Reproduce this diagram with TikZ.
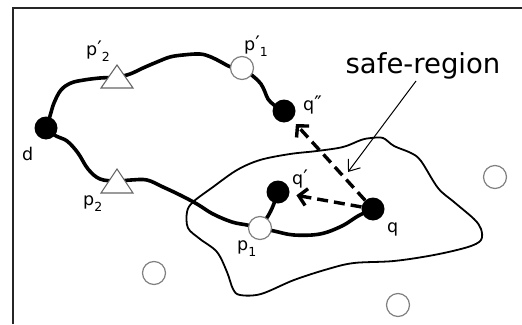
\documentclass[tikz,border=0pt]{standalone}
\usepackage{fontspec}
\setmainfont{DejaVu Sans}
\usetikzlibrary{backgrounds,arrows.meta}
\newcommand\primemark{\raisebox{0pt}{\fontsize{20}{20}\selectfont ′}}
\newcommand\dprimemark{\raisebox{0pt}{\fontsize{20}{20}\selectfont ″}}
\newcommand\plbl[3]{#1#2\raisebox{-6pt}{\fontsize{12.5}{12.5}\selectfont #3}}
\begin{document}
\begin{tikzpicture}[x=1pt,y=-1pt,
  blackdot/.style={circle,fill=black,minimum size=23pt,inner sep=0pt},
  graydot/.style={circle,draw=black!50,line width=1.2pt,fill=white,minimum size=23pt,inner sep=0pt},
  trishape/.style={draw=black!60,line width=1.1pt,fill=white,line join=miter},
  routeline/.style={line width=3.6pt,line cap=round,line join=round},
  regionline/.style={line width=1.8pt,line join=round},
  movearrow/.style={line width=3.4pt,dash pattern=on 11pt off 6pt,-{Straight Barb[length=8pt,width=17pt]}},
  pointer/.style={line width=1pt,-{Straight Barb[length=10pt,width=15pt]}},
  lbl/.style={font=\fontsize{17.5}{17.5}\selectfont,inner sep=0pt,anchor=base west},
]
\useasboundingbox (0,0) rectangle (522,324);
\draw[line width=2pt,black!85] (13,324) -- (13,8) -- (522,8);

% points
\node[blackdot] (d) at (46,128) {};
\coordinate (pp2) at (117,77);
\coordinate (p2) at (117,181);
\node[graydot] (pp1) at (242,68) {};
\node[blackdot] (qpp) at (284,111) {};
\node[blackdot] (qp) at (278,192) {};
\node[graydot] (p1) at (260,228) {};
\node[blackdot] (q) at (373,209) {};
\node[graydot] (o1) at (154,273) {};
\node[graydot] (o2) at (398,305) {};
\node[graydot] (o3) at (495,177) {};
\filldraw[trishape] ([shift={(-16,11)}]pp2) -- ([shift={(0,-12)}]pp2) -- ([shift={(16,11)}]pp2) -- cycle;
\filldraw[trishape] ([shift={(-16,12)}]p2) -- ([shift={(0,-12)}]p2) -- ([shift={(16,12)}]p2) -- cycle;

\begin{pgfonlayer}{background}
% safe region
\draw[regionline] plot[smooth cycle,tension=0.55] coordinates {
 (260,160) (290,154) (317,151) (343,147) (361,140) (371,138) (383,138) (394,146)
 (411,153) (421,161) (438,188) (454,202) (474,219) (481,229) (481,240) (468,247)
 (434,255) (394,261) (354,263) (328,269) (294,280) (261,294) (240,295) (233,289)
 (227,272) (217,252) (200,239) (188,228) (187,212) (193,202) (213,187) (237,170)};
% routes
\draw[routeline] plot[smooth,tension=0.6] coordinates {
 (d.center) (50,116) (54,103) (61,90) (71,83) (84,80) (100,78) (pp2)
 (130,74) (143,68) (157,62) (170,57) (183,55) (200,54) (211,57) (221,62) (231,67) (pp1.center)
 (254,77) (261,84) (265,92) (268,99) (274,105) (qpp.center)};
\draw[routeline] plot[smooth,tension=0.6] coordinates {
 (d.center) (56,136) (67,141) (78,153) (88,169) (100,179) (p2)
 (131,180) (147,180) (163,187) (180,195) (197,204) (213,214) (232,222) (247,225) (p1.center)
 (274,231) (294,235) (320,234) (342,226) (358,216) (q.center)};
\draw[routeline] plot[smooth,tension=0.6] coordinates {(p1.center) (268,216) (273,206) (qp.center)};
\end{pgfonlayer}

% moves
\draw[movearrow,shorten >=7pt] (q) -- (qp);
\draw[movearrow,shorten >=6pt] (q) -- (qpp);

% safe region pointer
\node[font=\fontsize{27.5}{27.5}\selectfont,inner sep=0pt,anchor=base] (sr) at (423,73) {safe-region};
\coordinate (srfrom) at (416,81);
\coordinate (srto) at (348,172);
\draw[pointer] (srfrom) -- (srto);

% labels
\node[lbl] (dl) at (22,160) {d};
\node[lbl] (pp2l) at (86,55) {\plbl{p}{\primemark}{2}};
\node[lbl] (pp1l) at (244,50) {\plbl{p}{\primemark}{1}};
\node[lbl] (p2l) at (83,205) {\plbl{p}{}{2}};
\node[lbl] (p1l) at (237,250) {\plbl{p}{}{1}};
\node[lbl] (qppl) at (303,110) {q\dprimemark};
\node[lbl] (qpl) at (292,184) {q\primemark};
\node[lbl] (ql) at (387,232) {q};
\end{tikzpicture}
\end{document}
